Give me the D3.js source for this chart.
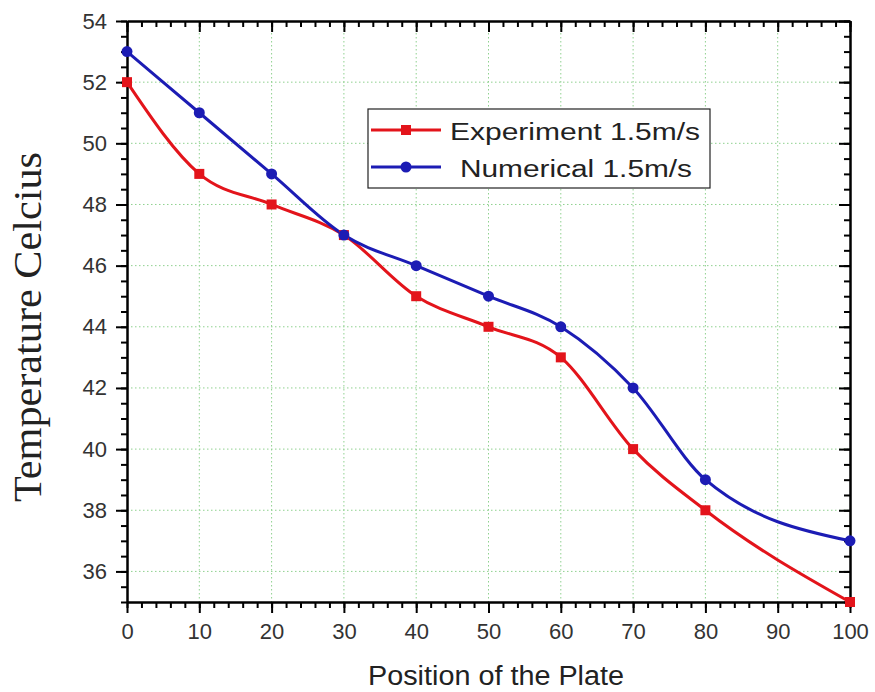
<!DOCTYPE html>
<html>
<head>
<meta charset="utf-8">
<script src="https://cdn.jsdelivr.net/npm/d3@7"></script>
<style>
  body { margin: 0; background: #fff; }
  svg { display: block; }
</style>
</head>
<body>
<svg id="chart" width="875" height="692"></svg>
<script>
// positions along the plate and measured / computed temperatures
const expX = [0, 10, 20, 30, 40, 50, 60, 70, 80, 100];
const expY = [52, 49, 48, 47, 45, 44, 43, 40, 38, 35];
const numX = [0, 10, 20, 30, 40, 50, 60, 70, 80, 100];
const numY = [53, 51, 49, 47, 46, 45, 44, 42, 39, 37];
const xTicks = [0, 10, 20, 30, 40, 50, 60, 70, 80, 90, 100];
const yTicks = [36, 38, 40, 42, 44, 46, 48, 50, 52, 54];
const seriesNames = ['Experiment 1.5m/s', 'Numerical 1.5m/s'];

const svg = d3.select('#chart');
const pLeft = 127, pRight = 850, pTop = 21, pBottom = 602;

const x = d3.scaleLinear().domain([0, 100]).range([pLeft, pRight]);
const y = d3.scaleLinear().domain([35, 54]).range([pBottom, pTop]);

const red = '#e3141b', blue = '#1c1cb4';
const sans = 'Liberation Sans, Arial, sans-serif';

// grid
const grid = svg.append('g').attr('stroke', '#8fd18f').attr('stroke-width', 1)
  .attr('stroke-dasharray', '1.5,2.5');
grid.selectAll('.gx').data(xTicks.slice(1, -1)).enter().append('line')
  .attr('x1', d => x(d)).attr('x2', d => x(d)).attr('y1', pTop).attr('y2', pBottom);
grid.selectAll('.gy').data(yTicks.slice(0, -1)).enter().append('line')
  .attr('x1', pLeft).attr('x2', pRight).attr('y1', d => y(d)).attr('y2', d => y(d));

// axes
const xMinor = d3.range(0, 101, 2);
const yMinor = d3.range(35, 54.01, 0.5);

function styleAxis(g) {
  g.select('.domain').attr('stroke', '#000').attr('stroke-width', 2);
  g.selectAll('.tick line').attr('stroke', '#000').attr('stroke-width', 2);
  g.selectAll('.tick text').attr('fill', '#333').attr('font-family', sans).attr('font-size', 22);
}

// minor ticks
svg.append('g').attr('transform', `translate(0,${pBottom})`)
  .call(d3.axisBottom(x).tickValues(xMinor).tickSize(6).tickFormat('').tickSizeOuter(0))
  .call(styleAxis);
svg.append('g').attr('transform', `translate(0,${pTop})`)
  .call(d3.axisBottom(x).tickValues(xMinor).tickSize(6).tickFormat('').tickSizeOuter(0))
  .call(styleAxis);
svg.append('g').attr('transform', `translate(${pLeft},0)`)
  .call(d3.axisLeft(y).tickValues(yMinor).tickSize(6).tickFormat('').tickSizeOuter(0))
  .call(styleAxis);
svg.append('g').attr('transform', `translate(${pRight},0)`)
  .call(d3.axisLeft(y).tickValues(yMinor).tickSize(6).tickFormat('').tickSizeOuter(0))
  .call(styleAxis);

// major ticks with labels
svg.append('g').attr('transform', `translate(0,${pBottom})`)
  .call(d3.axisBottom(x).tickValues(xTicks).tickSize(11).tickPadding(10).tickSizeOuter(0))
  .call(styleAxis);
svg.append('g').attr('transform', `translate(0,${pTop})`)
  .call(d3.axisBottom(x).tickValues(xTicks).tickSize(11).tickFormat('').tickSizeOuter(0))
  .call(styleAxis);
svg.append('g').attr('transform', `translate(${pLeft},0)`)
  .call(d3.axisLeft(y).tickValues(yTicks).tickSize(11).tickPadding(9).tickSizeOuter(0))
  .call(styleAxis);
svg.append('g').attr('transform', `translate(${pRight},0)`)
  .call(d3.axisLeft(y).tickValues(yTicks).tickSize(11).tickFormat('').tickSizeOuter(0))
  .call(styleAxis);

// axis titles
svg.append('text').attr('x', 368).attr('y', 685)
  .attr('font-family', sans).attr('font-size', 27).attr('fill', '#222')
  .attr('textLength', 256).attr('lengthAdjust', 'spacingAndGlyphs')
  .text('Position of the Plate');
svg.append('text').attr('transform', 'translate(41,502) rotate(-90)')
  .attr('font-family', 'Liberation Serif, Times New Roman, serif').attr('font-size', 39).attr('fill', '#222')
  .attr('textLength', 350).attr('lengthAdjust', 'spacingAndGlyphs')
  .text('Temperature Celcius');

// series
const line = d3.line().x(d => x(d[0])).y(d => y(d[1])).curve(d3.curveMonotoneX);
const expData = expX.map((v, i) => [v, expY[i]]);
const numData = numX.map((v, i) => [v, numY[i]]);

svg.append('path').datum(expData).attr('d', line).attr('fill', 'none')
  .attr('stroke', red).attr('stroke-width', 3);
svg.append('path').datum(numData).attr('d', line).attr('fill', 'none')
  .attr('stroke', blue).attr('stroke-width', 3);

svg.selectAll('.sq').data(expData).enter().append('rect')
  .attr('x', d => x(d[0]) - 5).attr('y', d => y(d[1]) - 5)
  .attr('width', 10).attr('height', 10).attr('fill', red);
svg.selectAll('.ci').data(numData).enter().append('circle')
  .attr('cx', d => x(d[0])).attr('cy', d => y(d[1])).attr('r', 5.5).attr('fill', blue);

// legend
const lg = svg.append('g');
lg.append('rect').attr('x', 368).attr('y', 109).attr('width', 342).attr('height', 79)
  .attr('fill', '#fff').attr('stroke', '#222').attr('stroke-width', 1.2);
const rows = [
  { c: red, t: seriesNames[0], y: 130, tx: 450, len: 250, m: 'sq' },
  { c: blue, t: seriesNames[1], y: 167, tx: 460, len: 232, m: 'ci' }
];
rows.forEach(r => {
  lg.append('line').attr('x1', 371).attr('x2', 441).attr('y1', r.y).attr('y2', r.y)
    .attr('stroke', r.c).attr('stroke-width', 3);
  if (r.m === 'sq') lg.append('rect').attr('x', 401).attr('y', r.y - 5).attr('width', 10).attr('height', 10).attr('fill', r.c);
  else lg.append('circle').attr('cx', 406).attr('cy', r.y).attr('r', 5.5).attr('fill', r.c);
  lg.append('text').attr('x', r.tx).attr('y', r.y + 10).attr('font-family', sans)
    .attr('font-size', 23).attr('fill', '#222')
    .attr('textLength', r.len).attr('lengthAdjust', 'spacingAndGlyphs').text(r.t);
});
</script>
</body>
</html>
